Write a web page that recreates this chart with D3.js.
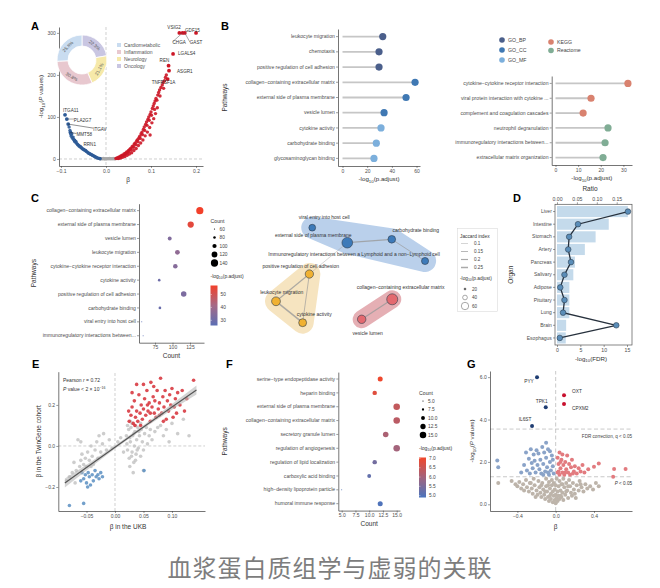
<!DOCTYPE html>
<html>
<head>
<meta charset="utf-8">
<script src="https://cdn.jsdelivr.net/npm/d3@7"></script>
<style>
  body { margin: 0; background: #fff; }
  svg { font-family: "Liberation Sans", Arial, sans-serif; }
</style>
</head>
<body>
<svg id="fig" width="660" height="588"></svg>
<script>
// ---------------- data ----------------
// A: volcano (beta, -log10 P) + donut
var donutNames = ["Oncology", "Neurology", "Inflammation", "Cardiometabolic"];
var donutValues = [22.3, 21.1, 30.8, 25.8];
var donutLegend = ["Cardiometabolic", "Inflammation", "Neurology", "Oncology"];

var aRed = [[0.022,1],[0.024,2],[0.026,3],[0.028,2],[0.029,5],[0.031,4],[0.033,7],[0.034,6],[0.036,9],[0.038,8],
  [0.04,12],[0.041,10],[0.043,14],[0.045,13],[0.046,17],[0.048,16],[0.05,20],[0.051,18],[0.053,23],[0.055,25],
  [0.056,22],[0.058,29],[0.06,31],[0.061,28],[0.063,36],[0.065,38],[0.066,34],[0.068,43],[0.07,46],[0.071,41],
  [0.073,50],[0.075,54],[0.076,49],[0.078,60],[0.08,64],[0.081,58],[0.083,70],[0.085,76],[0.086,68],[0.088,82],
  [0.09,88],[0.091,80],[0.093,94],[0.095,100],[0.096,92],[0.098,106],[0.1,112],[0.101,104],[0.103,120],[0.105,126],
  [0.107,132],[0.109,138],[0.111,144],[0.113,140],[0.115,152],[0.117,158],[0.119,164],[0.122,170],[0.125,176],
  [0.127,182],[0.13,186],[0.132,194],[0.134,200],[0.098,57],[0.108,118],[0.12,150],[0.128,168],
  [0.027,1],[0.032,2],[0.037,4],[0.042,6],[0.047,9],[0.052,12],[0.057,15],[0.062,20],[0.067,25],[0.072,32],
  [0.077,38],[0.082,45],[0.087,55],[0.092,64],[0.097,75],[0.102,86],[0.106,96],[0.11,108],[0.114,122]];
var aBlue = [[-0.082,76],[-0.08,68],[-0.078,58],[-0.077,54],[-0.076,60],[-0.075,50],[-0.073,52],[-0.072,47],
  [-0.07,44],[-0.069,41],[-0.067,42],[-0.066,38],[-0.064,36],[-0.063,34],[-0.061,33],[-0.06,31],[-0.058,29],
  [-0.057,30],[-0.055,27],[-0.054,26],[-0.052,24],[-0.05,23],[-0.049,22],[-0.047,21],[-0.045,20],[-0.044,18],
  [-0.042,17],[-0.04,15],[-0.039,14],[-0.037,13],[-0.035,12],[-0.034,11],[-0.032,10],[-0.03,9],[-0.029,8],
  [-0.027,7],[-0.025,6],[-0.024,5],[-0.022,4],[-0.02,3],[-0.018,2],[-0.016,1.5],[-0.014,1],[-0.013,0.5]];
var aGray = [[-0.012,0.4],[-0.01,0.8],[-0.008,0.3],[-0.006,1],[-0.004,0.5],[-0.002,0.2],[0,0.6],[0.002,0.3],
  [0.004,0.9],[0.006,0.4],[0.008,1.2],[0.01,0.5],[0.012,0.8],[0.014,0.3],[0.016,1],[0.018,0.6],[0.02,0.4]];
// labelled proteins
var aLabNames = ["VSIG2","GDF15","CHGA","GAST","LGALS4","REN","ASGR1","TNFRSF1A","ITGA11","PLA2G7","ITGAV","MMT58","RRN1"];
var aLabBeta  = [0.163, 0.2, 0.17, 0.175, 0.149, 0.139, 0.14, 0.137, -0.091, -0.087, -0.084, -0.079, -0.07];
var aLabP     = [300, 300, 300, 300, 250, 222, 210, 190, 105, 95, 83, 63, 44];

// B: lollipops
var bPath = ["leukocyte migration","chemotaxis","positive regulation of cell adhesion",
  "collagen\u2212containing extracellular matrix","external side of plasma membrane","vesicle lumen",
  "cytokine activity","carbohydrate binding","glycosaminoglycan binding"];
var bVal = [32.6, 29.6, 29.6, 58.8, 51.5, 33.7, 31.2, 27.4, 25.5];
var bSrc = ["GO_BP","GO_BP","GO_BP","GO_CC","GO_CC","GO_CC","GO_MF","GO_MF","GO_MF"];
var bPath2 = ["cytokine\u2212cytokine receptor interaction","viral protein interaction with cytokine ...",
  "complement and coagulation cascades","neutrophil degranulation",
  "immunoregulatory interactions between...","extracellular matrix organization"];
var bVal2 = [32, 15.7, 12.2, 23.2, 21.9, 21];
var bSrc2 = ["KEGG","KEGG","KEGG","Reactome","Reactome","Reactome"];
var bSources = ["GO_BP","GO_CC","GO_MF","KEGG","Reactome"];

// C: dot plot + network
var cPath = ["collagen\u2212containing extracellular matrix","external side of plasma membrane","vesicle lumen",
  "leukocyte migration","cytokine\u2212cytokine receptor interaction","cytokine activity",
  "positive regulation of cell adhesion","carbohydrate binding","viral entry into host cell",
  "immunoregulatory interactions between..."];
var cCount = [139, 126, 96, 107, 104, 81, 116, 82, 56, 58];
var cLogP = [58, 54, 34, 37, 35, 30, 33, 29, 22, 22];
var cCountTicks = [60, 80, 100, 120, 140];
var cColorTicks = [30, 40, 50];

var netNames = ["viral entry into host cell","external side of plasma membrane","carbohydrate binding",
  "Immunoregulatory interactions between a Lymphoid and a non\u2212Lymphoid cell",
  "positive regulation of cell adhesion","leukocyte migration","cytokine activity",
  "collagen\u2212containing extracellular matrix","vesicle lumen"];
var netX = [26.4, 48.3, 76.1, 96.9, 24.6, 3.75, 20.4, 76.4, 57.3];   // layout units
var netY = [2.7, 17.7, 14.3, 36, 49, 76.3, 97.7, 74.3, 94.3];
var netP = [22, 54, 28, 24, 33, 37, 30, 58, 34];
var netCluster = [0, 0, 0, 0, 1, 1, 1, 2, 2];
var netEdges = [[1,2,0.2],[2,3,0.15],[1,4,0.1],[4,5,0.2],[4,6,0.15],[5,6,0.25],[7,8,0.2]];
var jaccardTicks = [0.1, 0.15, 0.2, 0.25];
var netSizeTicks = [20, 40, 60];

// D: organs
var organs = ["Liver","Intestine","Stomach","Artery","Pancreas","Salivary","Adipose","Pituitary","Lung","Brain","Esophagus"];
var organRatio = [0.178, 0.13, 0.097, 0.07, 0.045, 0.041, 0.031, 0.031, 0.031, 0.023, 0.022];
var organFDR = [15.2, 4.5, 2.6, 2.4, 3.0, 1.6, 0.7, 1.6, 1.3, 12.7, 0.6];

// E: UKB vs TwinGene
var eRed = [[0.025,0.12],[0.028,0.15],[0.03,0.19],[0.032,0.11],[0.034,0.22],[0.036,0.14],[0.038,0.17],[0.04,0.12],
  [0.042,0.25],[0.044,0.16],[0.046,0.2],[0.048,0.13],[0.05,0.3],[0.05,0.18],[0.052,0.23],[0.054,0.15],[0.056,0.27],
  [0.058,0.17],[0.06,0.21],[0.062,0.12],[0.063,0.31],[0.065,0.19],[0.067,0.24],[0.069,0.16],[0.07,0.22],[0.072,0.14],
  [0.074,0.27],[0.076,0.18],[0.078,0.21],[0.08,0.33],[0.082,0.16],[0.084,0.24],[0.086,0.19],[0.088,0.27],[0.09,0.13],
  [0.092,0.22],[0.094,0.17],[0.096,0.25],[0.098,0.2],[0.1,0.28],[0.102,0.14],[0.104,0.19],[0.106,0.23],[0.108,0.16],
  [0.11,0.26],[0.114,0.2],[0.118,0.27],[0.122,0.17],[0.126,0.23],[0.138,0.32],[0.03,0.26],[0.038,0.3],[0.057,0.2],
  [0.045,0.1],[0.068,0.29],[0.085,0.12],[0.024,0.17],[0.035,0.1],[0.062,0.16],[0.078,0.15]];
var eGray = [[0.02,0.05],[0.022,-0.02],[0.024,0.08],[0.025,-0.06],[0.027,0.02],[0.028,0.09],[0.03,-0.03],[0.031,0.05],
  [0.033,-0.08],[0.034,0],[0.035,0.07],[0.037,-0.04],[0.038,0.03],[0.04,0.09],[0.041,-0.01],[0.043,0.05],[0.045,-0.05],
  [0.046,0.08],[0.048,0.02],[0.05,-0.02],[0.052,0.06],[0.055,0.09],[0.057,0.01],[0.06,0.05],[0.062,0.08],[0.065,0.03],
  [0.07,0.07],[0.075,0.09],[0.08,0.1],[0.085,0.05],[0.09,0.08],[0.1,0.11],[0.11,0.06],[0.12,0.13],[0.13,0.05],
  [0.095,0.02],[0.026,-0.1],[0.032,-0.13],[0.05,-0.12],[0.036,-0.07],[0.045,0.11],[0.03,0.11],[0.022,0.1],
  [0.021,0.01],[0.026,0.04],[0.029,-0.05],[0.033,0.06],[0.039,-0.02],[0.042,0.07],[0.027,0.12],[0.036,0.1],
  [-0.08,-0.15],[-0.075,-0.13],[-0.072,-0.08],[-0.07,-0.18],[-0.068,-0.12],[-0.065,0.03],[-0.062,-0.1],[-0.06,-0.07],
  [-0.058,-0.04],[-0.055,-0.09],[-0.052,-0.06],[-0.05,-0.1],[-0.048,-0.03],[-0.045,-0.07],[-0.042,0],[-0.04,-0.05],
  [-0.038,-0.09],[-0.035,-0.02],[-0.032,0.02],[-0.03,-0.06],[-0.028,0.05],[-0.025,-0.03],[-0.022,0.01],[-0.02,0.06],
  [-0.015,-0.02],[-0.01,0.03],[-0.005,-0.01],[0.005,0.02],[0.01,0.04],[0.015,-0.03],[-0.085,-0.17],[-0.06,0.02],[-0.042,-0.1]];
var eBlue = [[-0.058,-0.13],[-0.055,-0.16],[-0.052,-0.14],[-0.05,-0.18],[-0.047,-0.13],[-0.045,-0.15],[-0.043,-0.19],
  [-0.04,-0.14],[-0.038,-0.17],[-0.035,-0.12],[-0.033,-0.15],[-0.03,-0.14],[-0.028,-0.16],[-0.025,-0.13],[-0.022,-0.15],
  [-0.06,-0.17],[-0.048,-0.2],[-0.08,-0.29],[-0.055,-0.28],[0.051,-0.12]];
var eFitX = [-0.088, -0.05, 0, 0.05, 0.1, 0.143];
var eFitY = [-0.18, -0.105, -0.006, 0.093, 0.19, 0.273];
var eFitSE = [0.022, 0.014, 0.008, 0.008, 0.014, 0.022];

// F: dot plot
var fPath = ["serine\u2212type endopeptidase activity","heparin binding","external side of plasma membrane",
  "collagen\u2212containing extracellular matrix","secretory granule lumen","regulation of angiogenesis",
  "regulation of lipid localization","carboxylic acid binding","high\u2212density lipoprotein particle",
  "humoral immune response"];
var fCount = [12, 11, 15, 15, 13, 15, 11, 10, 5, 12];
var fLogP = [7.0, 6.8, 6.4, 6.3, 6.1, 6.0, 5.4, 5.2, 5.0, 4.95];
var fCountTicks = [5, 7.5, 10, 12.5, 15];
var fColorTicks = [5.0, 5.5, 6.0, 6.5, 7.0];

// G: volcano (beta, -log10 P)
var gGray = [[-0.46,1.1],[-0.42,0.95],[-0.4,0.85],[-0.38,1.05],[-0.36,0.75],[-0.34,0.95],[-0.33,0.65],[-0.31,1.15],
  [-0.3,0.8],[-0.28,0.6],[-0.27,1.0],[-0.25,0.75],[-0.24,0.5],[-0.23,1.2],[-0.22,0.9],[-0.2,0.65],[-0.19,0.45],
  [-0.18,1.1],[-0.17,0.8],[-0.16,0.55],[-0.15,0.35],[-0.14,1.0],[-0.13,0.7],[-0.12,0.45],[-0.11,0.25],[-0.1,1.2],
  [-0.1,0.85],[-0.09,0.6],[-0.08,0.35],[-0.07,0.15],[-0.07,1.05],[-0.06,0.75],[-0.05,0.5],[-0.05,0.25],[-0.04,1.15],
  [-0.04,0.9],[-0.03,0.6],[-0.03,0.1],[-0.02,0.4],[-0.02,1.0],[-0.01,0.7],[-0.01,0.2],[0,0.05],[0,0.45],[0,0.9],
  [0.01,0.3],[0.01,1.2],[0.02,0.6],[0.02,0.15],[0.03,0.85],[0.03,0.4],[0.04,1.1],[0.04,0.25],[0.05,0.65],[0.06,0.95],
  [0.06,0.35],[0.07,0.55],[0.08,1.2],[0.08,0.2],[0.09,0.8],[0.1,0.45],[0.11,1.0],[0.12,0.65],[0.13,0.3],[0.14,1.15],
  [0.15,0.85],[0.16,0.55],[0.17,0.4],[0.18,1.0],[0.19,0.7],[0.2,0.5],[0.22,0.9],[0.24,0.65],[0.25,1.1],[0.27,0.8],
  [0.29,0.6],[0.31,0.95],[0.33,0.75],[0.36,0.85],[0.39,0.7],[0.42,1.0],[0.45,0.85],[-0.6,1.0],[-0.11,0.6],[0.11,0.6],
  [-0.06,0.4],[0.05,0.4],[-0.15,0.9],[0.13,0.85],[-0.21,0.35],[0.21,0.3],[-0.26,1.0],[0.26,0.95],[-0.08,0.9],[0.07,0.95]];
var gBlue = [[-0.02,1.45],[-0.03,1.8],[-0.04,2.3],[-0.05,1.6],[-0.06,2.0],[-0.07,1.4],[-0.08,2.6],[-0.09,1.75],
  [-0.1,2.2],[-0.1,2.9],[-0.11,1.55],[-0.12,2.45],[-0.13,1.9],[-0.14,2.7],[-0.15,1.45],[-0.16,2.1],[-0.17,1.65],
  [-0.18,2.4],[-0.19,1.85],[-0.2,2.55],[-0.21,1.5],[-0.22,2.05],[-0.23,2.35],[-0.24,1.7],[-0.25,1.95],[-0.26,2.6],
  [-0.27,1.45],[-0.28,2.15],[-0.3,1.6],[-0.31,2.45],[-0.33,1.85],[-0.36,1.5],[-0.61,2.07],[-0.6,1.75],[-0.06,2.5],
  [-0.08,1.5],[-0.03,2.1],[-0.13,1.4]];
var gPink = [[0.02,1.5],[0.02,2.2],[0.03,1.9],[0.04,2.45],[0.04,1.4],[0.05,1.7],[0.06,2.1],[0.07,1.5],[0.07,2.35],
  [0.08,1.85],[0.09,1.4],[0.1,2.0],[0.11,1.65],[0.12,2.3],[0.13,1.5],[0.14,1.9],[0.15,1.4],[0.16,1.75],[0.17,2.1],
  [0.19,1.55],[0.2,1.8],[0.22,1.45],[0.24,1.7],[0.26,1.55],[0.28,1.85],[0.3,1.5],[0.34,1.65],[0.4,1.77],[0.45,1.93],
  [0.61,1.66],[0.73,1.66],[0.6,1.3],[0.05,2.0],[0.03,1.55],[0.1,1.5],[0.18,1.45]];
var gTopNames = ["PYY", "TPK1", "IL6ST", "OXT", "CPXM2"];
var gTopBeta = [-0.195, -0.104, -0.247, 0.087, 0.087];
var gTopP = [6.0, 4.58, 3.69, 5.14, 4.73];
var gFdrLine = 3.55, gPLine = 1.3;

// ---------------- helpers ----------------
var svg = d3.select("#fig");
var TXT = "#4d4d4d", AX = "#3a3a3a";

function styleAxis(g, fs) {
  g.attr("font-family", null).attr("font-size", null);
  g.select(".domain").attr("stroke", AX).attr("stroke-width", 0.7);
  g.selectAll(".tick line").attr("stroke", AX).attr("stroke-width", 0.5);
  g.selectAll(".tick text").attr("fill", TXT).style("font-size", (fs || 5) + "px")
    .each(function() {
      // tighter tick padding, like ggplot
      var t = d3.select(this);
      if (+t.attr("y") > 0) t.attr("y", 3.2);
      else if (+t.attr("y") < 0) t.attr("y", -3.2);
      if (+t.attr("x") < 0) t.attr("x", -3.2);
    });
  return g;
}
function rich(g, x, y, parts, fs, rot, anchor) {
  var t = g.append("text").attr("x", x).attr("y", y)
    .attr("text-anchor", anchor || "middle").style("font-size", fs + "px").attr("fill", "#333");
  if (rot) t.attr("transform", "rotate(" + rot + "," + x + "," + y + ")");
  parts.forEach(function(p) {
    var s = t.append("tspan").text(p.t);
    if (p.sub) s.attr("dy", fs * 0.3).style("font-size", (fs * 0.7) + "px");
    if (p.sup) s.attr("dy", -fs * 0.4).style("font-size", (fs * 0.7) + "px");
    if (p.dy) s.attr("dy", p.dy * fs);
    if (p.it) s.style("font-style", "italic");
  });
  return t;
}
function logTitle(what, it) {
  return [{t: "-log"}, {t: "10", sub: true}, {t: "(", dy: -0.3}, {t: what, it: it}, {t: it ? " values)" : ")"}];
}
function letter(x, y, s) {
  svg.append("text").attr("x", x).attr("y", y).text(s)
    .style("font-size", "11px").style("font-weight", "bold").attr("fill", "#000");
}
function txt(g, x, y, s, fs, anchor, col) {
  return g.append("text").attr("x", x).attr("y", y).attr("dy", "0.35em").text(s)
    .attr("text-anchor", anchor || "start").style("font-size", fs + "px").attr("fill", col || "#333");
}

// ================= A =================
letter(31, 30, "A");
var gA = svg.append("g");
var xA = d3.scaleLinear().domain([-0.1044, 0.2155]).range([59, 203]);
var yA = d3.scaleLinear().domain([-16.7, 314]).range([166, 27]);
gA.append("line").attr("x1", xA(0)).attr("x2", xA(0)).attr("y1", yA.range()[1]).attr("y2", yA.range()[0])
  .attr("stroke", "#bbb").attr("stroke-dasharray", "3,2").attr("stroke-width", 0.7);
gA.append("line").attr("x1", xA.range()[0]).attr("x2", xA.range()[1]).attr("y1", yA(0)).attr("y2", yA(0))
  .attr("stroke", "#bbb").attr("stroke-dasharray", "3,2").attr("stroke-width", 0.7);
[[aGray, "#a8a8a8"], [aBlue, "#2e5b97"], [aRed, "#cc1626"]].forEach(function(s) {
  gA.selectAll(null).data(s[0]).enter().append("circle")
    .attr("cx", function(d) { return xA(d[0]); }).attr("cy", function(d) { return yA(d[1]); })
    .attr("r", 1.7).attr("fill", s[1]).attr("fill-opacity", 0.9);
});
// labelled points
var aLabOff = [[-12,-5],[-11,-2],[-10,10],[5,10],[5,-1],[-9,-5],[8,1],[-16,3],[-2,-4],[7,1],[25,5],[6,2],[9,4]];
var aLabLine = [false,false,true,true,false,false,false,false,false,true,true,true,false];
aLabNames.forEach(function(n, i) {
  var px = xA(aLabBeta[i]), py = yA(aLabP[i]);
  var col = aLabBeta[i] > 0 ? "#cc1626" : "#2e5b97";
  gA.append("circle").attr("cx", px).attr("cy", py).attr("r", 1.9).attr("fill", col);
  var tx = px + aLabOff[i][0], ty = py + aLabOff[i][1];
  if (aLabLine[i]) gA.append("line").attr("x1", px).attr("y1", py).attr("x2", tx).attr("y2", ty - 1)
    .attr("stroke", i == 10 || i == 11 ? "#222" : "#555").attr("stroke-width", 0.5);
  txt(gA, tx, ty, n, 4.6, "start", "#333");
});
styleAxis(gA.append("g").attr("transform", "translate(0," + yA.range()[0] + ")")
  .call(d3.axisBottom(xA).tickValues([-0.1, 0, 0.1, 0.2]).tickFormat(d3.format(".1f")).tickSize(2).tickSizeOuter(0)), 5);
styleAxis(gA.append("g").attr("transform", "translate(" + xA.range()[0] + ",0)")
  .call(d3.axisLeft(yA).tickValues([0, 100, 200, 300]).tickSize(2).tickSizeOuter(0)), 5);
rich(gA, d3.mean(xA.range()) - 3, 182, [{t: "\u03b2"}], 6.5);
rich(gA, 43, d3.mean(yA.range()), logTitle("P", true), 6.2, -90);

// donut
var donutColors = {Oncology: "#c9c6e2", Neurology: "#f6e9a9", Inflammation: "#e8c8cf", Cardiometabolic: "#c9dcf0"};
var pie = d3.pie().sort(null).value(function(d) { return d; })(donutValues);
var arcA = d3.arc().innerRadius(14).outerRadius(25);
var gD = gA.append("g").attr("transform", "translate(82,60)");
gD.selectAll("path").data(pie).enter().append("path").attr("d", arcA)
  .attr("fill", function(d, i) { return donutColors[donutNames[i]]; }).attr("stroke", "#fff").attr("stroke-width", 0.8);
gD.selectAll("text").data(pie).enter().append("text")
  .attr("transform", function(d) {
    var c = arcA.centroid(d), a = (d.startAngle + d.endAngle) / 2 * 180 / Math.PI;
    if (a > 90 && a < 270) a -= 180;
    return "translate(" + c + ") rotate(" + a + ")";
  })
  .attr("text-anchor", "middle").attr("dy", "0.35em").style("font-size", "4.6px").attr("fill", "#555")
  .text(function(d) { return d.data.toFixed(1) + "%"; });
var gLA = gA.append("g").attr("transform", "translate(117,45)");
donutLegend.forEach(function(n, i) {
  gLA.append("rect").attr("x", 0).attr("y", i * 7 - 2).attr("width", 4).attr("height", 4).attr("fill", donutColors[n]);
  txt(gLA, 7, i * 7, n, 5, "start", "#555");
});

// ================= B =================
letter(221, 30, "B");
var srcColor = d3.scaleOrdinal().domain(bSources).range(["#4b5f8b", "#3f78b3", "#7cafdc", "#d9826f", "#80ad95"]);
function lollipop(cats, vals, srcs, yR, xDom, xR, ticks, yLab) {
  var g = svg.append("g");
  var y = d3.scaleBand().domain(cats).range(yR);
  var x = d3.scaleLinear().domain(xDom).range(xR);
  cats.forEach(function(c, i) {
    var cy = y(c) + y.bandwidth() / 2;
    g.append("line").attr("x1", x(0)).attr("x2", x(vals[i])).attr("y1", cy).attr("y2", cy)
      .attr("stroke", "#c6c6c6").attr("stroke-width", 1.8);
    g.append("circle").attr("cx", x(vals[i])).attr("cy", cy).attr("r", 3.6).attr("fill", srcColor(srcs[i]));
  });
  styleAxis(g.append("g").attr("transform", "translate(0," + yR[1] + ")")
    .call(d3.axisBottom(x).tickValues(ticks).tickSize(2).tickSizeOuter(0)), 5);
  styleAxis(g.append("g").attr("transform", "translate(" + xR[0] + ",0)")
    .call(d3.axisLeft(y).tickSize(2).tickSizeOuter(0)), 5.1);
  rich(g, d3.mean(xR), yR[1] + 15, logTitle("p.adjust", false), 6.2);
  if (yLab) rich(g, 227, d3.mean(yR), [{t: "Pathways"}], 6.5, -90);
}
lollipop(bPath, bVal, bSrc, [29, 166], [-3.65, 62.8], [338, 420], [0, 20, 40, 60], true);
lollipop(bPath2, bVal2, bSrc2, [76, 165], [-1.68, 33.8], [551.7, 632], [0, 10, 20, 30], false);
var gLB = svg.append("g");
bSources.forEach(function(s, i) {
  var lx = i < 3 ? 502 : 551, ly = i < 3 ? 40 + i * 10 : 42 + (i - 3) * 8.5;
  gLB.append("circle").attr("cx", lx).attr("cy", ly).attr("r", 2.8).attr("fill", srcColor(s));
  txt(gLB, lx + 6, ly, s, 5.2, "start", "#444");
});

// ================= C (dot plot) =================
letter(31, 202, "C");
function dotPlot(cats, counts, logp, yR, xDom, xR, xTicks, xFmt, sizeDom, sizeMax, colDom, colRange, legX, legY, countTicks, colorTicks, legFmt, labX) {
  var g = svg.append("g");
  var y = d3.scaleBand().domain(cats).range(yR);
  var x = d3.scaleLinear().domain(xDom).range(xR);
  var r = d3.scaleSqrt().domain(sizeDom).range([0, sizeMax]);
  var col = d3.scaleLinear().domain(colDom).range(colRange).clamp(true);
  cats.forEach(function(c, i) {
    g.append("circle").attr("cx", x(counts[i])).attr("cy", y(c) + y.bandwidth() / 2)
      .attr("r", Math.max(0.5, r(counts[i]))).attr("fill", col(logp[i]));
  });
  styleAxis(g.append("g").attr("transform", "translate(0," + yR[1] + ")")
    .call(d3.axisBottom(x).tickValues(xTicks).tickFormat(xFmt).tickSize(2).tickSizeOuter(0)), 5);
  styleAxis(g.append("g").attr("transform", "translate(" + xR[0] + ",0)")
    .call(d3.axisLeft(y).tickSize(2).tickSizeOuter(0)), 5.1);
  rich(g, d3.mean(xR), yR[1] + 15, [{t: "Count"}], 6.5);
  rich(g, labX, d3.mean(yR), [{t: "Pathways"}], 6.5, -90);
  // legends
  txt(g, legX, legY, "Count", 5.2, "start", "#333");
  countTicks.forEach(function(v, i) {
    var ly = legY + 8 + i * 8.5;
    g.append("circle").attr("cx", legX + 4).attr("cy", ly).attr("r", Math.max(0.6, r(v))).attr("fill", "#000");
    txt(g, legX + 9, ly, legFmt(v), 4.8, "start", "#444");
  });
  var cTop = legY + 8 + countTicks.length * 8.5 + 6;
  rich(g, legX, cTop, logTitle("p.adjust", false), 5, 0, "start");
  var gy = d3.scaleLinear().domain([colDom[0], colDom[colDom.length - 1]]).range([cTop + 48, cTop + 8]);
  var gid = "grad" + Math.round(legX);
  var grad = svg.append("defs").append("linearGradient").attr("id", gid)
    .attr("x1", 0).attr("x2", 0).attr("y1", 1).attr("y2", 0);
  colDom.forEach(function(v, i) {
    grad.append("stop").attr("offset", (v - colDom[0]) / (colDom[colDom.length - 1] - colDom[0])).attr("stop-color", colRange[i]);
  });
  g.append("rect").attr("x", legX).attr("y", gy.range()[1]).attr("width", 7)
    .attr("height", gy.range()[0] - gy.range()[1]).attr("fill", "url(#" + gid + ")");
  colorTicks.forEach(function(v) {
    g.append("line").attr("x1", legX).attr("x2", legX + 1.5).attr("y1", gy(v)).attr("y2", gy(v)).attr("stroke", "#fff").attr("stroke-width", 0.4);
    txt(g, legX + 10, gy(v), legFmt(v), 4.8, "start", "#444");
  });
}
dotPlot(cPath, cCount, cLogP, [203.7, 342.7], [52.1, 145], [139, 204], [75, 100, 125], d3.format("d"),
  [55, 145], 3.8, [26, 41.5, 57], ["#5b6eb4", "#a56a87", "#f2402a"], 210.5, 221, cCountTicks, cColorTicks, d3.format("d"), 36);

// ================= C (network) =================
var gN = svg.append("g");
var xN = d3.scaleLinear().domain([0, 100]).range([270, 430]);
var yN = d3.scaleLinear().domain([0, 100]).range([225, 325]);
var hullFill = ["#a3c1e5", "#f4dcab", "#dd959c"];
var hullPad = [11, 11, 9];
var nodeFill = ["#3d7ab9", "#f0b132", "#e3696f"];
[0, 1, 2].forEach(function(k) {
  var pts = netX.map(function(v, i) { return [xN(v), yN(netY[i]), netCluster[i]]; })
    .filter(function(p) { return p[2] === k; }).map(function(p) { return [p[0], p[1]]; });
  var hull = pts.length > 2 ? d3.polygonHull(pts) : pts;
  gN.append("path").attr("d", "M" + hull.join("L") + (pts.length > 2 ? "Z" : ""))
    .attr("fill", hullFill[k]).attr("stroke", hullFill[k]).attr("stroke-width", hullPad[k] * 2)
    .attr("stroke-linejoin", "round").attr("stroke-linecap", "round").attr("opacity", 0.75);
});
var edgeW = d3.scaleLinear().domain([0.1, 0.25]).range([0.5, 1.5]);
netEdges.forEach(function(e) {
  gN.append("line").attr("x1", xN(netX[e[0]])).attr("y1", yN(netY[e[0]]))
    .attr("x2", xN(netX[e[1]])).attr("y2", yN(netY[e[1]]))
    .attr("stroke", "#9a9a9a").attr("stroke-width", edgeW(e[2])).attr("stroke-opacity", 0.8);
});
var nodeR = d3.scaleSqrt().domain([0, 60]).range([0, 5.6]);
netNames.forEach(function(n, i) {
  gN.append("circle").attr("cx", xN(netX[i])).attr("cy", yN(netY[i])).attr("r", nodeR(netP[i]))
    .attr("fill", nodeFill[netCluster[i]]).attr("stroke", "#2f3d4c").attr("stroke-width", 0.6);
});
var netLabOff = [[12, -10], [-34, -7.7], [24, -9], [-71, -7], [-8.6, -8], [5.7, -8.6], [11.6, -8.4], [8.4, -12.3], [6, 14]];
netNames.forEach(function(n, i) {
  txt(gN, xN(netX[i]) + netLabOff[i][0], yN(netY[i]) + netLabOff[i][1], n, 5, "middle", "#333");
});
// network legend
var gNL = svg.append("g");
gNL.append("rect").attr("x", 457.7).attr("y", 228.3).attr("width", 40).attr("height", 83)
  .attr("fill", "#fff").attr("stroke", "#d4d4d4").attr("stroke-width", 0.5);
txt(gNL, 460, 236, "Jaccard index", 4.8, "start", "#333");
jaccardTicks.forEach(function(v, i) {
  var ly = 243.5 + i * 8;
  gNL.append("line").attr("x1", 461).attr("x2", 468).attr("y1", ly).attr("y2", ly)
    .attr("stroke", "#aaa").attr("stroke-width", edgeW(v));
  txt(gNL, 474, ly, String(v), 4.6, "start", "#444");
});
rich(gNL, 460, 279.5, logTitle("p.adjust", false), 4.8, 0, "start");
var legNodeR = d3.scaleLinear().domain([20, 60]).range([1, 3.7]);
netSizeTicks.forEach(function(v, i) {
  var ly = 289 + i * 8.5;
  gNL.append("circle").attr("cx", 465).attr("cy", ly).attr("r", legNodeR(v))
    .attr("fill", v === 20 ? "#555" : "#fff").attr("stroke", "#555").attr("stroke-width", 0.5);
  txt(gNL, 472, ly, String(v), 4.6, "start", "#444");
});

// ================= D =================
letter(513, 202, "D");
var gO = svg.append("g");
var yO = d3.scaleBand().domain(organs).range([206, 343.5]).paddingInner(0.12);
var xRatio = d3.scaleLinear().domain([0, 0.15]).range([557, 616.7]);
var xFDR = d3.scaleLinear().domain([0, 15]).range([557, 627]);
gO.selectAll("rect.bar").data(organs).enter().append("rect")
  .attr("x", xRatio(0)).attr("y", function(d) { return yO(d); })
  .attr("width", function(d, i) { return xRatio(organRatio[i]) - xRatio(0); })
  .attr("height", yO.bandwidth()).attr("fill", "#c4daeb");
var lineO = d3.line().x(function(d, i) { return xFDR(d); }).y(function(d, i) { return yO(organs[i]) + yO.bandwidth() / 2; });
gO.append("path").attr("d", lineO(organFDR)).attr("fill", "none").attr("stroke", "#27313d").attr("stroke-width", 1.3);
gO.selectAll("circle").data(organFDR).enter().append("circle")
  .attr("cx", function(d) { return xFDR(d); }).attr("cy", function(d, i) { return yO(organs[i]) + yO.bandwidth() / 2; })
  .attr("r", 2.8).attr("fill", "#5a8db8").attr("stroke", "#2c3e50").attr("stroke-width", 0.6);
gO.append("rect").attr("x", 555).attr("y", 204.3).attr("width", 77).attr("height", 140.7)
  .attr("fill", "none").attr("stroke", "#555").attr("stroke-width", 0.7);
var axT = styleAxis(gO.append("g").attr("transform", "translate(0,204.3)")
  .call(d3.axisTop(xRatio).tickValues([0, 0.05, 0.1, 0.15]).tickFormat(d3.format(".2f")).tickSize(2).tickSizeOuter(0)), 5.2);
axT.select(".domain").remove();
var axB = styleAxis(gO.append("g").attr("transform", "translate(0,345)")
  .call(d3.axisBottom(xFDR).tickValues([0, 5, 10, 15]).tickSize(2).tickSizeOuter(0)), 5.2);
axB.select(".domain").remove();
var axL = styleAxis(gO.append("g").attr("transform", "translate(555,0)")
  .call(d3.axisLeft(yO).tickSize(2).tickSizeOuter(0)), 5);
axL.select(".domain").remove();
rich(gO, 590, 191, [{t: "Ratio"}], 6.5);
rich(gO, 591, 360.5, logTitle("FDR", false), 6.2);
rich(gO, 513, d3.mean(yO.range()), [{t: "Organ"}], 6.5, -90);

// ================= E =================
letter(32, 368, "E");
var gE = svg.append("g");
var xE = d3.scaleLinear().domain([-0.0995, 0.158]).range([58.3, 205]);
var yE = d3.scaleLinear().domain([-0.317, 0.362]).range([511, 371.7]);
gE.append("line").attr("x1", xE(0)).attr("x2", xE(0)).attr("y1", yE.range()[0]).attr("y2", yE.range()[1])
  .attr("stroke", "#bbb").attr("stroke-dasharray", "3,2").attr("stroke-width", 0.7);
gE.append("line").attr("x1", xE.range()[0]).attr("x2", xE.range()[1]).attr("y1", yE(0)).attr("y2", yE(0))
  .attr("stroke", "#bbb").attr("stroke-dasharray", "3,2").attr("stroke-width", 0.7);
[[eGray, "#c4c4c4"], [eBlue, "#5b8fc2"], [eRed, "#d62f37"]].forEach(function(s) {
  gE.selectAll(null).data(s[0]).enter().append("circle")
    .attr("cx", function(d) { return xE(d[0]); }).attr("cy", function(d) { return yE(d[1]); })
    .attr("r", 1.8).attr("fill", s[1]).attr("fill-opacity", 0.85);
});
var bandE = d3.area().x(function(d, i) { return xE(eFitX[i]); })
  .y0(function(d, i) { return yE(d - eFitSE[i]); }).y1(function(d, i) { return yE(d + eFitSE[i]); });
gE.append("path").attr("d", bandE(eFitY)).attr("fill", "#b8b8b8").attr("fill-opacity", 0.6);
gE.append("path").attr("d", d3.line().x(function(d, i) { return xE(eFitX[i]); }).y(function(d) { return yE(d); })(eFitY))
  .attr("fill", "none").attr("stroke", "#555").attr("stroke-width", 1.2);
styleAxis(gE.append("g").attr("transform", "translate(0," + yE.range()[0] + ")")
  .call(d3.axisBottom(xE).tickValues([-0.05, 0, 0.05, 0.1]).tickFormat(d3.format(".2f")).tickSize(2).tickSizeOuter(0)), 5);
styleAxis(gE.append("g").attr("transform", "translate(" + xE.range()[0] + ",0)")
  .call(d3.axisLeft(yE).tickValues([-0.2, 0, 0.2]).tickFormat(d3.format(".1f")).tickSize(2).tickSizeOuter(0)), 5);
rich(gE, 128, 529, [{t: "\u03b2 in the UKB"}], 6.5);
rich(gE, 41, d3.mean(yE.range()), [{t: "\u03b2 in the TwinGene cohort"}], 6.5, -90);
rich(gE, 63, 382, [{t: "Pearson "}, {t: "r", it: true}, {t: " = 0.72"}], 5, 0, "start");
rich(gE, 63, 391, [{t: "P", it: true}, {t: " value < 2 \u00d7 10"}, {t: "\u221216", sup: true}], 5, 0, "start");

// ================= F =================
letter(226, 368, "F");
dotPlot(fPath, fCount, fLogP, [372.1, 510.6], [4.38, 15.6], [338.3, 400], [5, 7.5, 10, 12.5, 15], d3.format(".1f"),
  [4.5, 15.5], 3.4, [4.9, 5.95, 7.05], ["#4b74bd", "#a0657f", "#f2472a"], 419, 393, fCountTicks, fColorTicks, d3.format(".1f"), 227);

// ================= G =================
letter(467, 368, "G");
var gG = svg.append("g");
var xG = d3.scaleLinear().domain([-0.686, 0.797]).range([490, 632]);
var yG = d3.scaleLinear().domain([-0.316, 6.29]).range([511, 371]);
[[xG(0), xG(0), yG.range()[0], yG.range()[1]],
 [xG.range()[0], xG.range()[1], yG(gFdrLine), yG(gFdrLine)],
 [xG.range()[0], xG.range()[1], yG(gPLine), yG(gPLine)]].forEach(function(l) {
  gG.append("line").attr("x1", l[0]).attr("x2", l[1]).attr("y1", l[2]).attr("y2", l[3])
    .attr("stroke", "#bbb").attr("stroke-dasharray", "4,2.5").attr("stroke-width", 0.8);
});
[[gGray, "#bdb4aa"], [gBlue, "#8aa3c8"], [gPink, "#e27b7f"]].forEach(function(s) {
  gG.selectAll(null).data(s[0]).enter().append("circle")
    .attr("cx", function(d) { return xG(d[0]); }).attr("cy", function(d) { return yG(d[1]); })
    .attr("r", 2).attr("fill", s[1]);
});
var gTopOff = [[-8, 4.5], [-4, -6], [-7, -7], [8, -4], [8, 4.5]];
gTopNames.forEach(function(n, i) {
  var px = xG(gTopBeta[i]), py = yG(gTopP[i]);
  gG.append("circle").attr("cx", px).attr("cy", py).attr("r", 2)
    .attr("fill", gTopBeta[i] < 0 ? "#1f3d72" : "#c8102e");
  txt(gG, px + gTopOff[i][0], py + gTopOff[i][1], n, 4.8, gTopBeta[i] < 0 ? "middle" : "start", "#333");
});
txt(gG, xG.range()[1], yG(gFdrLine) + 7, "FDR correction, q < 0.05", 4.6, "end", "#444");
rich(gG, xG.range()[1], yG(gPLine) + 8.5, [{t: "P", it: true}, {t: " < 0.05"}], 4.6, 0, "end");
styleAxis(gG.append("g").attr("transform", "translate(0," + yG.range()[0] + ")")
  .call(d3.axisBottom(xG).tickValues([-0.4, 0, 0.4]).tickFormat(d3.format(".1f")).tickSize(2).tickSizeOuter(0)), 5);
styleAxis(gG.append("g").attr("transform", "translate(" + xG.range()[0] + ",0)")
  .call(d3.axisLeft(yG).tickValues([0, 2, 4, 6]).tickSize(2).tickSizeOuter(0)), 5);
rich(gG, xG(0), 529, [{t: "\u03b2"}], 6.5);
rich(gG, 474, d3.mean(yG.range()), logTitle("P", true), 6.2, -90);

// ================= title =================
svg.append("text").attr("x", 330).attr("y", 577).attr("text-anchor", "middle")
  .style("font-family", "'Noto Sans CJK SC', sans-serif").style("font-size", "24px")
  .style("letter-spacing", "1px").attr("fill", "#7d7d7d").text("血浆蛋白质组学与虚弱的关联");
</script>
</body>
</html>
